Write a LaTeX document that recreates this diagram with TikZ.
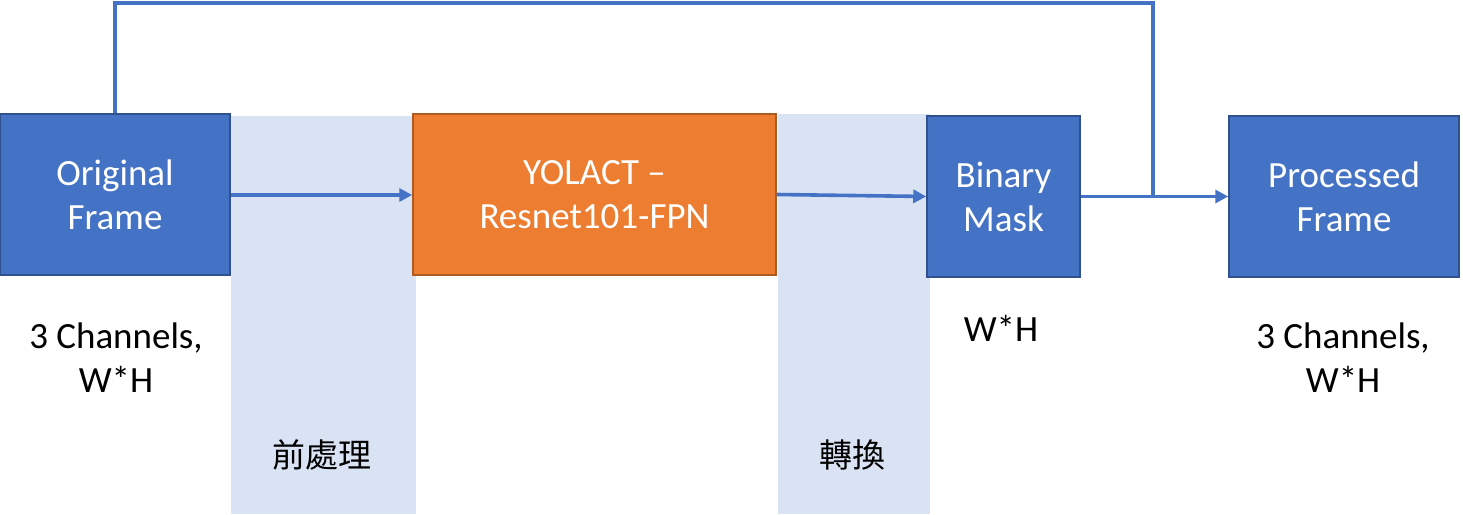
\documentclass[tikz,border=0pt]{standalone}
\usepackage{fontspec}
\setmainfont{Carlito}
\newfontfamily\cjk{Noto Sans CJK TC}
\usetikzlibrary{arrows.meta}
\definecolor{boxblue}{HTML}{4472C4}
\definecolor{blueedge}{HTML}{2F528F}
\definecolor{boxorange}{HTML}{ED7D31}
\definecolor{orangeedge}{HTML}{AE5A21}
\definecolor{bandblue}{HTML}{DAE3F3}
\tikzset{
  block/.style={draw=blueedge, fill=boxblue, line width=1.5pt, text=white,
    minimum height=161pt, inner sep=0pt, align=center,
    font=\fontsize{37}{44}\selectfont},
  oblock/.style={block, draw=orangeedge, fill=boxorange},
  band/.style={fill=bandblue, draw=none},
  conn/.style={draw=boxblue, line width=3.6pt},
  arr/.style={conn, -{Triangle[length=13pt,width=13pt]}},
  note/.style={align=center, font=\fontsize{37}{44}\selectfont, text=black},
  cjknote/.style={font=\cjk\fontsize{33}{40}\selectfont, text=black}
}
\begin{document}
\begin{tikzpicture}[x=1pt,y=-1pt]
\useasboundingbox (0,0) rectangle (1463,514);
\fill[bandblue] (231,116) rectangle (416,514);
\fill[bandblue] (778,114) rectangle (930,514);
\node[block, minimum width=230pt] (orig) at (115,194.5) {Original\\Frame};
\node[oblock, minimum width=363pt] (yolact) at (594.5,194.5) {YOLACT --\\Resnet101-FPN};
\node[block, minimum width=153pt] (binary) at (1003.5,196.5) {Binary\\Mask};
\node[block, minimum width=230pt] (proc) at (1344,196.5) {Processed\\Frame};
\draw[arr] (orig.east |- 0,195) -- (yolact.west |- 0,195);
\draw[arr] (yolact.east) -- (binary.west);
\draw[arr] (binary.east) -- (proc.west);
\coordinate (top) at (1153,3);
\coordinate (join) at (1153,196.5);
\draw[conn] (orig.north) |- (top) -- (join);
\node[note] (n1) at (116,358) {3 Channels,\\W*H};
\node[note] (n2) at (1001,328) {W*H};
\node[note] (n3) at (1343,358) {3 Channels,\\W*H};
\node[cjknote] (c1) at (322,455) {前處理};
\node[cjknote] (c2) at (852,455) {轉換};
\end{tikzpicture}
\end{document}
